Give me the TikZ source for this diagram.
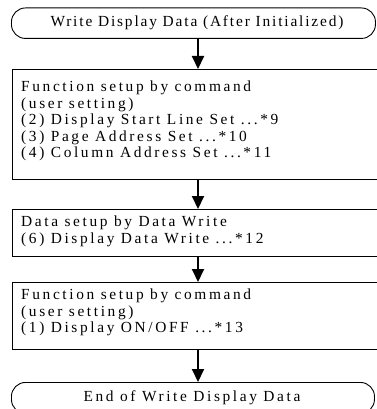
\documentclass[tikz,border=0pt]{standalone}
\usepackage{fontspec}
\setmainfont{Liberation Serif}[LetterSpace=17]
\newfontfamily\narrowserif{Liberation Serif}[LetterSpace=12]
\usetikzlibrary{arrows.meta}
\begin{document}
\begin{tikzpicture}[x=1pt,y=-1pt,
  term/.style={draw, line width=0.9pt, rounded corners=14pt, inner sep=0pt},
  box/.style={draw, line width=0.9pt, inner sep=0pt},
  flow/.style={line width=2pt, -{Triangle[length=13pt,width=12pt]}},
  txt/.style={font=\fontsize{15.4}{16.5}\selectfont, inner sep=0pt, align=left, anchor=north west},
  ctxt/.style={font=\fontsize{15.4}{16.5}\selectfont, inner sep=0pt}
]
\useasboundingbox (0,0) rectangle (376,409);
\coordinate (ax) at (198,0);
% shapes
\node[term, minimum width=364pt, minimum height=30.5pt, anchor=north west] (start) at (11,7.5) {};
\node[box, minimum width=364.5pt, minimum height=110pt, anchor=north west] (b1) at (12,69) {};
\node[box, minimum width=364.5pt, minimum height=47pt, anchor=north west] (b2) at (12,209) {};
\node[box, minimum width=364.5pt, minimum height=67pt, anchor=north west] (b3) at (12,282) {};
\node[term, minimum width=363pt, minimum height=31pt, anchor=north west] (stop) at (11,382) {};
% texts
\node[ctxt, font=\narrowserif\fontsize{15.4}{16.5}\selectfont] (tstart) at (197,23) {Write Display Data (After Initialized)};
\node[txt] (t1) at (21,81) {Function setup by command\\(user setting)\\(2) Display Start Line Set ...*9\\(3) Page Address Set ...*10\\(4) Column Address Set ...*11};
\node[txt] (t2) at (21,216) {Data setup by Data Write\\(6) Display Data Write ...*12};
\node[txt] (t3) at (21,289) {Function setup by command\\(user setting)\\(1) Display ON/OFF ...*13};
\node[ctxt] (tstop) at (192,398) {End of Write Display Data};
% connectors
\draw[flow] (start.south -| ax) -- (b1.north -| ax);
\draw[flow] (b1.south -| ax) -- (b2.north -| ax);
\draw[flow] (b2.south -| ax) -- (b3.north -| ax);
\draw[flow] (b3.south -| ax) -- (stop.north -| ax);
\end{tikzpicture}
\end{document}
